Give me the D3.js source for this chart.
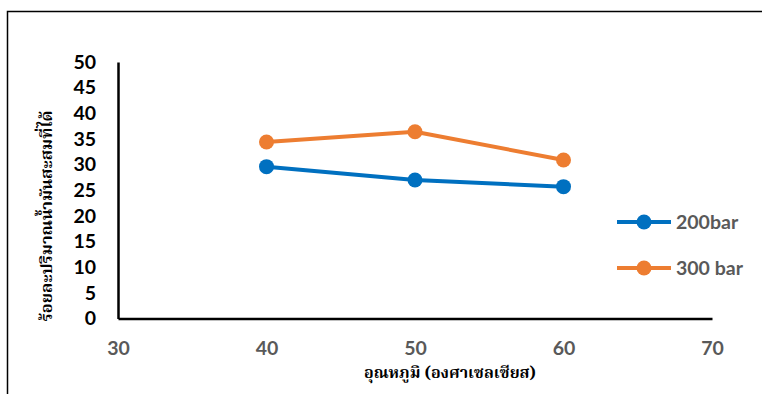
<!DOCTYPE html>
<html>
<head>
<meta charset="utf-8">
<script src="https://cdn.jsdelivr.net/npm/d3@7"></script>
<style>
  html, body { margin: 0; padding: 0; background: #fff; }
  svg { display: block; }
</style>
</head>
<body>
<svg id="chart" width="762" height="394"></svg>
<script>
// Temperature (°C) at which each sample was taken
const temperatures = [40, 50, 60];
// Cumulative oil yield (%) per pressure series
const yield200 = [29.6, 27.0, 25.7];
const yield300 = [34.4, 36.4, 30.9];
const seriesNames = ["200bar", "300 bar"];
const seriesColors = ["#0070C0", "#ED7D31"];
const xTicks = [30, 40, 50, 60, 70];
const yTicks = [0, 5, 10, 15, 20, 25, 30, 35, 40, 45, 50];
const xTitle = "อุณหภูมิ (องศาเซลเซียส)";
const yTitle = "ร้อยละปริมาณน้ำมันสะสมที่ได้";

const svg = d3.select("#chart");
const tickFont = "Lato, 'Open Sans', sans-serif";
const thaiFont = "'Noto Serif Thai', 'Noto Sans Thai', 'Liberation Serif', serif";
const tickSize = 19.5;

// outer frame
svg.append("rect")
  .attr("x", 7.5).attr("y", 11.5)
  .attr("width", 770).attr("height", 400)
  .attr("fill", "none").attr("stroke", "#000").attr("stroke-width", 1.5);

const x = d3.scaleLinear().domain([30, 70]).range([118, 712]);
const y = d3.scaleLinear().domain([0, 50]).range([318.5, 62]);

// axes
const xAxis = svg.append("g").attr("transform", `translate(0,${y(0)})`)
  .call(d3.axisBottom(x).tickValues(xTicks).tickSize(0).tickPadding(23));
xAxis.select(".domain").attr("stroke", "#000").attr("stroke-width", 2.5);
xAxis.selectAll("text")
  .attr("font-family", tickFont).attr("font-weight", "bold")
  .attr("font-size", tickSize).attr("fill", "#595959");

const yAxis = svg.append("g").attr("transform", `translate(${x(30)},0)`)
  .call(d3.axisLeft(y).tickValues(yTicks).tickSize(0).tickPadding(22));
yAxis.select(".domain").attr("stroke", "#000").attr("stroke-width", 2.5);
yAxis.selectAll("text")
  .attr("font-family", tickFont).attr("font-weight", "bold")
  .attr("font-size", tickSize).attr("fill", "#000");

// series
const series = [yield200, yield300];
const line = d3.line().x((d, i) => x(temperatures[i])).y(d => y(d));
series.forEach((vals, k) => {
  svg.append("path").datum(vals)
    .attr("d", line).attr("fill", "none")
    .attr("stroke", seriesColors[k]).attr("stroke-width", 4)
    .attr("stroke-linejoin", "round");
  svg.selectAll(null).data(vals).enter().append("circle")
    .attr("cx", (d, i) => x(temperatures[i])).attr("cy", d => y(d))
    .attr("r", 7.5).attr("fill", seriesColors[k]);
});

// legend
const legend = svg.append("g");
seriesNames.forEach((name, k) => {
  const ly = 222 + k * 46;
  legend.append("line").attr("x1", 617).attr("x2", 671).attr("y1", ly).attr("y2", ly)
    .attr("stroke", seriesColors[k]).attr("stroke-width", 4);
  legend.append("circle").attr("cx", 644).attr("cy", ly).attr("r", 7.5)
    .attr("fill", seriesColors[k]);
  legend.append("text").attr("x", 676).attr("y", ly).attr("dy", "0.35em")
    .attr("font-family", tickFont).attr("font-weight", "bold")
    .attr("font-size", tickSize).attr("fill", "#595959").text(name);
});

// axis titles
svg.append("text").attr("x", 450).attr("y", 378)
  .attr("text-anchor", "middle").attr("font-family", thaiFont)
  .attr("font-weight", "bold").attr("font-size", 16).attr("fill", "#000")
  .text(xTitle);

svg.append("text")
  .attr("transform", "translate(52,216) rotate(-90)")
  .attr("text-anchor", "middle").attr("font-family", thaiFont)
  .attr("font-weight", "bold").attr("font-size", 16.5).attr("fill", "#000")
  .text(yTitle);
</script>
</body>
</html>
